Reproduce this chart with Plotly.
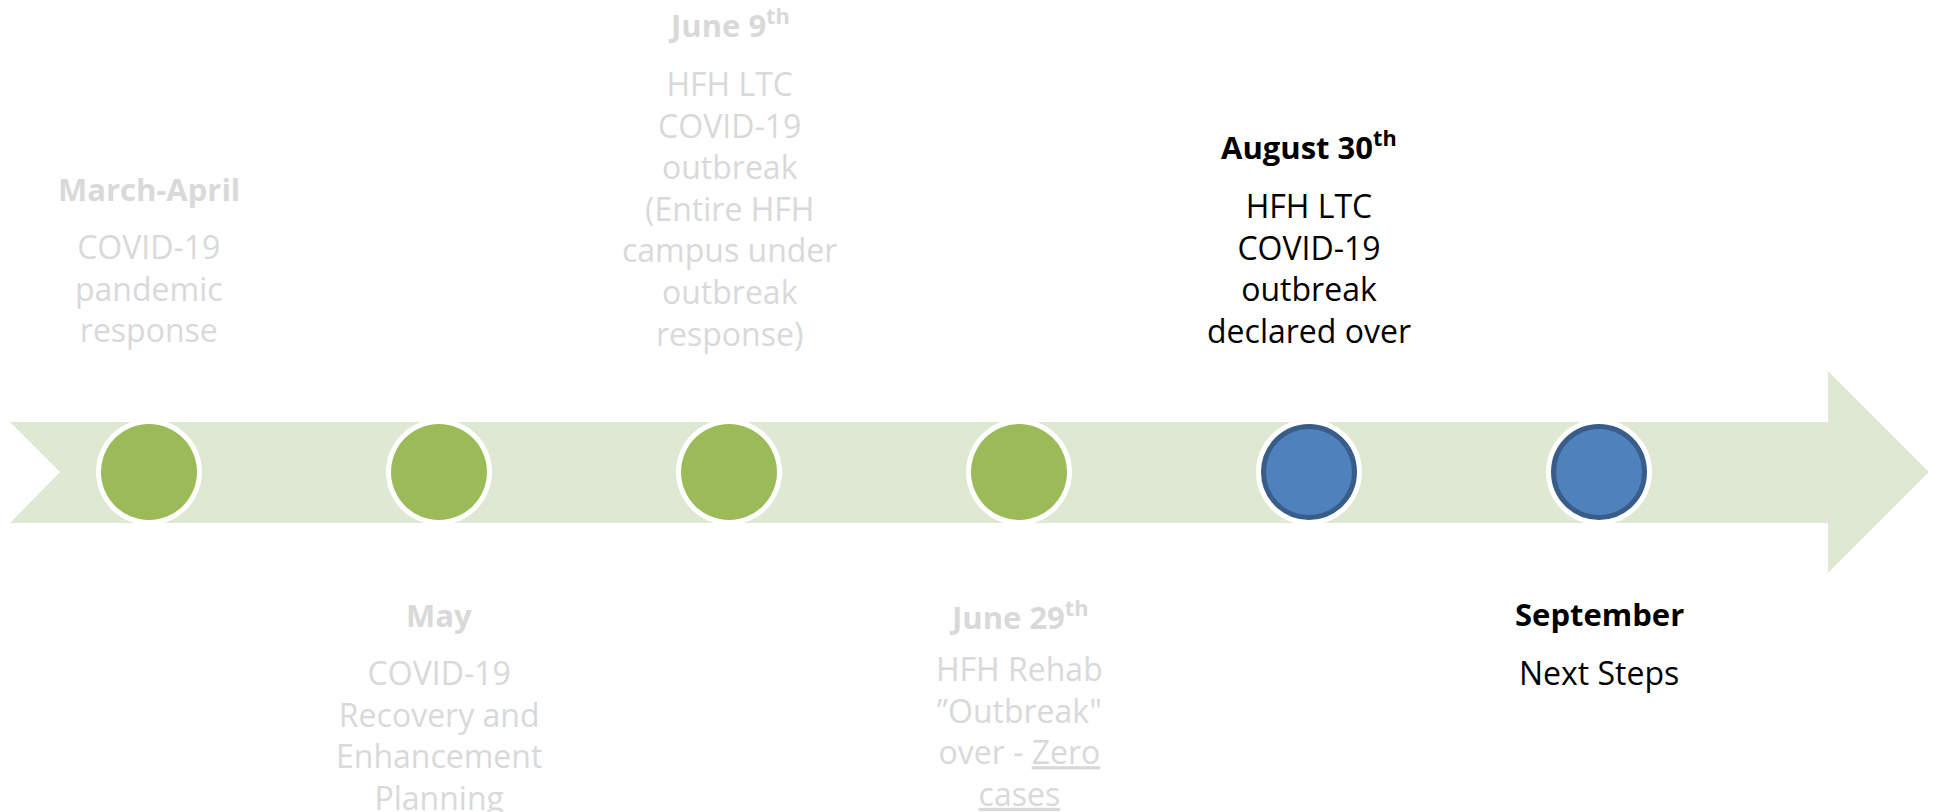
import plotly.graph_objects as go

# ---------------- data ----------------
events = ["March-April", "May", "June 9<sup>th</sup>", "June 29<sup>th</sup>",
          "August 30<sup>th</sup>", "September"]
descriptions = [
    "COVID-19<br>pandemic<br>response",
    "COVID-19<br>Recovery and<br>Enhancement<br>Planning",
    "HFH LTC<br>COVID-19<br>outbreak<br>(Entire HFH<br>campus under<br>outbreak<br>response)",
    "HFH Rehab<br>\u201dOutbreak\"<br>over - <u>Zero</u><br><u>cases</u>",
    "HFH LTC<br>COVID-19<br>outbreak<br>declared over",
    "Next Steps",
]
event_index = [0, 1, 2, 3, 4, 5]
status = ["done", "done", "done", "done", "current", "next"]

# ---------------- layout constants ----------------
W, H = 1939, 812
X0_PX, STEP_PX = 149, 290          # pixel of first node, spacing between nodes
LINE_Y = 472                       # timeline centre (px from top)
title_y = [189, 615, 23, 615, 145, 614]
body_y = [288, 735, 208, 731, 268, 672]

FONT = "Open Sans"
FS_TITLE = 31
FS_BODY = 32
GREY = "#D9D9D9"
fill_col = {"done": "#9BBB59", "current": "#4F81BD", "next": "#4F81BD"}
ring_col = {"done": "#9BBB59", "current": "#385D8A", "next": "#385D8A"}
text_col = {"done": GREY, "current": "#000000", "next": "#000000"}


def px2x(p):
    return (p - X0_PX) / STEP_PX


fig = go.Figure()

# arrow band
arrow_pts = [(10, 422), (1828, 422), (1828, 371), (1929, LINE_Y), (1828, 573),
             (1828, 523), (10, 523), (60, LINE_Y)]
path = "M " + " L ".join(f"{px2x(x)},{y}" for x, y in arrow_pts) + " Z"
fig.add_shape(type="path", path=path, xref="x", yref="y",
              fillcolor="#DFE8D3", line=dict(width=0), layer="below")

# white halo behind nodes
fig.add_trace(go.Scatter(
    x=event_index, y=[LINE_Y] * len(event_index), mode="markers",
    marker=dict(size=106, color="white", opacity=1, line=dict(width=0)),
    hoverinfo="skip", showlegend=False))
# nodes
fig.add_trace(go.Scatter(
    x=event_index, y=[LINE_Y] * len(event_index), mode="markers",
    marker=dict(size=[96 if s == "done" else 91 for s in status],
                color=[fill_col[s] for s in status], opacity=1,
                line=dict(width=[0 if s == "done" else 5 for s in status],
                          color=[ring_col[s] for s in status])),
    hoverinfo="skip", showlegend=False))

for i, (ev, desc, st) in enumerate(zip(events, descriptions, status)):
    col = text_col[st]
    fig.add_annotation(x=event_index[i], y=title_y[i], text=f"<b>{ev}</b>",
                       showarrow=False, xanchor="center", yanchor="middle",
                       font=dict(family=FONT, size=FS_TITLE, color=col))
    fig.add_annotation(x=event_index[i], y=body_y[i], text=desc,
                       showarrow=False, xanchor="center", yanchor="middle",
                       align="center",
                       font=dict(family=FONT, size=FS_BODY, color=col))

fig.update_layout(
    width=W, height=H, margin=dict(l=0, r=0, t=0, b=0),
    paper_bgcolor="white", plot_bgcolor="white",
    xaxis=dict(range=[px2x(0), px2x(W)], visible=False, fixedrange=True),
    yaxis=dict(range=[H, 0], visible=False, fixedrange=True),
    showlegend=False,
)

fig.write_html("out.html",
               config={"displayModeBar": False},
               post_script="document.body.style.margin='0';"
                           "document.body.style.overflow='hidden';")
